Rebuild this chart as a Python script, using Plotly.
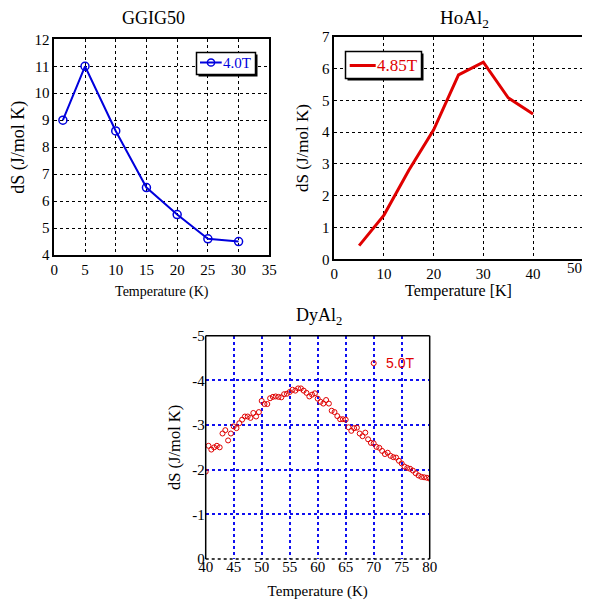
import plotly.graph_objects as go

# ---------------- data ----------------
ggig_T = [1.4, 5, 10, 15, 20, 25, 30]
ggig_dS = [9.0, 11.0, 8.6, 6.5, 5.5, 4.6, 4.5]

hoal_T = [5, 10, 15, 20, 25, 30, 35, 40]
hoal_dS = [0.43, 1.39, 2.8, 4.07, 5.8, 6.2, 5.08, 4.57]
hoal_xticks = [0, 10, 20, 30, 40, 50]

dyal_T = [40.0, 40.5, 41.0, 41.5, 42.0, 42.5, 43.0, 43.5, 44.0, 44.5,
          45.0, 45.5, 46.0, 46.5, 47.0, 47.5, 48.0, 48.5, 49.0, 49.5,
          50.0, 50.5, 51.0, 51.5, 52.0, 52.5, 53.0, 53.5, 54.0, 54.5,
          55.0, 55.5, 56.0, 56.5, 57.0, 57.5, 58.0, 58.5, 59.0, 59.5,
          60.0, 60.5, 61.0, 61.5, 62.0, 62.5, 63.0, 63.5, 64.0, 64.5,
          65.0, 65.5, 66.0, 66.5, 67.0, 67.5, 68.0, 68.5, 69.0, 69.5,
          70.0, 70.5, 71.0, 71.5, 72.0, 72.5, 73.0, 73.5, 74.0, 74.5,
          75.0, 75.5, 76.0, 76.5, 77.0, 77.5, 78.0, 78.5, 79.0, 79.5, 80.0]
dyal_dS = [-1.955, -2.535, -2.45, -2.5, -2.535, -2.5, -2.81, -2.885, -2.655, -2.81,
           -2.97, -2.93, -3.04, -3.12, -3.19, -3.19, -3.16, -3.27, -3.19, -3.29,
           -3.54, -3.47, -3.47, -3.6, -3.63, -3.64, -3.63, -3.62, -3.69, -3.70,
           -3.74, -3.79, -3.77, -3.82, -3.82, -3.77, -3.72, -3.64, -3.68, -3.71,
           -3.59, -3.52, -3.48, -3.56, -3.48, -3.32, -3.29, -3.2, -3.13, -3.13,
           -3.12, -2.95, -2.87, -2.93, -2.94, -2.81, -2.75, -2.83, -2.68, -2.6,
           -2.59, -2.51, -2.49, -2.42, -2.35, -2.38, -2.31, -2.28, -2.27, -2.2,
           -2.14, -2.07, -2.04, -2.02, -1.98, -1.92, -1.87, -1.84, -1.83, -1.82, -1.8]

dyal_ytickvals = [0, -1, -2, -3, -4, -5]
dyal_yticktext = ["0", "-1", "-2", "-3", "-4", "-5"]

# ---------------- styling ----------------
# the page body has an 8px default margin, so the figure is drawn 8px smaller
# and all page-pixel positions are shifted by that offset
OFF = 8
W, H = 590 - OFF, 602 - OFF
SERIF = "Liberation Serif, Times New Roman, serif"
SANS = "Liberation Sans, Arial, sans-serif"
BLUE = "#0000dd"
RED = "#e00000"
GRIDBLUE = "#1010f0"


def px_x(p):
    return (p - OFF) / W


def px_y(p):
    return 1 - (p - OFF) / H


fig = go.Figure()

fig.add_trace(go.Scatter(
    x=ggig_T, y=ggig_dS, name="4.0T", mode="lines+markers",
    line=dict(color=BLUE, width=2),
    marker=dict(symbol="circle-open", size=8, color=BLUE, line=dict(width=1.5)),
    xaxis="x", yaxis="y", showlegend=False))

fig.add_trace(go.Scatter(
    x=hoal_T, y=hoal_dS, name="4.85T", mode="lines",
    line=dict(color=RED, width=3),
    xaxis="x2", yaxis="y2", showlegend=False))

fig.add_trace(go.Scatter(
    x=dyal_T, y=dyal_dS, name="5.0T", mode="markers",
    marker=dict(symbol="circle-open", size=5, color=RED, line=dict(width=1)),
    xaxis="x3", yaxis="y3", showlegend=False))


def axis(domain, rng, dtick, title, anchor, tsize, titlesize, standoff,
         gridcolor="black", showline=True, gridwidth=1, labelstandoff=0):
    return dict(domain=domain, range=rng, dtick=dtick, anchor=anchor,
                showgrid=True, gridcolor=gridcolor, griddash="dot", gridwidth=gridwidth,
                showline=showline, linecolor="black", linewidth=1.5, mirror=showline,
                ticks="", automargin=False, ticklabelstandoff=labelstandoff,
                ticklabeloverflow="allow",
                tickfont=dict(family=SERIF, size=tsize, color="black"), zeroline=False,
                title=dict(text=title, font=dict(family=SERIF, size=titlesize, color="black"),
                           standoff=standoff))


fig.update_layout(
    width=W, height=H,
    margin=dict(l=0, r=0, t=0, b=0),
    paper_bgcolor="white", plot_bgcolor="white",
    showlegend=False,
    xaxis=axis([px_x(54.3), px_x(269.3)], [0, 35], 5, "Temperature (K)", "y", 15, 14, 9),
    yaxis=axis([px_y(255), px_y(39.3)], [4, 12], 1, "dS (J/mol K)", "x", 15, 18, 10),
    xaxis2=axis([px_x(334.3), px_x(582.7)], [0, 50], 10, "Temperature [K]", "y2", 15, 16, 2),
    yaxis2=axis([px_y(259.3), px_y(36.7)], [0, 7], 1, "dS (J/mol K)", "x2", 15, 17, 9),
    xaxis3=axis([px_x(205.7), px_x(429.7)], [40, 80], 5, "Temperature (K)", "y3", 15, 15, 11,
                gridcolor=GRIDBLUE, showline=False, gridwidth=1.5, labelstandoff=-3),
    yaxis3=axis([px_y(559), px_y(335.7)], [0, -5], 1, "dS (J/mol K)", "x3", 15, 16.5, 7,
                gridcolor=GRIDBLUE, showline=False, gridwidth=1.5),
)
fig.update_layout(yaxis3=dict(tickmode="array", tickvals=dyal_ytickvals, ticktext=dyal_yticktext))
# the last HoAl2 tick label sits right-aligned at the axis end (as in the original)
fig.update_layout(xaxis2=dict(tickmode="array", tickvals=hoal_xticks[:-1]))
fig.add_annotation(text=str(hoal_xticks[-1]), x=hoal_xticks[-1], xref="x2",
                   y=px_y(268), yref="paper", showarrow=False,
                   xanchor="right", yanchor="middle", borderpad=0,
                   font=dict(family=SERIF, size=15, color="black"))

# chart titles
titles = [("GGIG50", 153.8, 17.5, 18), ("HoAl<sub>2</sub>", 464, 19.5, 19), ("DyAl<sub>2</sub>", 319, 316.5, 18)]
for txt, xp, yp, fs in titles:
    fig.add_annotation(text=txt, x=px_x(xp), y=px_y(yp), xref="paper", yref="paper",
                       showarrow=False, xanchor="center", yanchor="middle", borderpad=0,
                       font=dict(family=SERIF, size=fs, color="black"))

# frame of DyAl2 plot: solid left/top/right, dotted bottom
frame = dict(color="black", width=1.5)
fig.add_shape(type="line", xref="x3 domain", yref="y3 domain", x0=0, x1=0, y0=0, y1=1, line=frame)
fig.add_shape(type="line", xref="x3 domain", yref="y3 domain", x0=0, x1=1, y0=1, y1=1, line=frame)
fig.add_shape(type="line", xref="x3 domain", yref="y3 domain", x0=1, x1=1, y0=0, y1=1, line=frame)
fig.add_shape(type="line", xref="x3 domain", yref="y3 domain", x0=0, x1=1, y0=0, y1=0,
              line=dict(color="black", width=1.5, dash="dot"))


# ---------------- legends (boxes with drop shadow) ----------------
def rect(x0, y0, x1, y1, **kw):
    fig.add_shape(type="rect", xref="paper", yref="paper",
                  x0=px_x(x0), x1=px_x(x1), y0=px_y(y1), y1=px_y(y0), **kw)


def hline(x0, x1, y, color, width):
    fig.add_shape(type="line", xref="paper", yref="paper",
                  x0=px_x(x0), x1=px_x(x1), y0=px_y(y), y1=px_y(y),
                  line=dict(color=color, width=width))


def circle(cx, cy, r, color, width):
    fig.add_shape(type="circle", xref="paper", yref="paper",
                  x0=px_x(cx - r), x1=px_x(cx + r), y0=px_y(cy + r), y1=px_y(cy - r),
                  line=dict(color=color, width=width), fillcolor="rgba(0,0,0,0)")


def label(text, x, y, color, family, size):
    fig.add_annotation(text=text, x=px_x(x), y=px_y(y), xref="paper", yref="paper",
                       showarrow=False, xanchor="left", yanchor="middle",
                       font=dict(family=family, size=size, color=color))


# GGIG50 legend
rect(198.5, 54.5, 257.5, 76.5, fillcolor="black", line=dict(width=0))
rect(196.5, 52.5, 255.5, 74.5, fillcolor="white", line=dict(color="black", width=1.5))
hline(200, 221.7, 62.5, BLUE, 2)
circle(211, 62.5, 3.6, BLUE, 1.5)
label(fig.data[0].name, 220.5, 63, BLUE, SERIF, 15)

# HoAl2 legend
rect(347.5, 53.5, 423.5, 80.5, fillcolor="black", line=dict(width=0))
rect(345.5, 51.5, 421.5, 78.5, fillcolor="white", line=dict(color="black", width=1.5))
hline(349.7, 375.7, 65.5, RED, 3)
label(fig.data[1].name, 374.5, 65.5, RED, SERIF, 17)

# DyAl2 legend (no box)
circle(373.7, 363.2, 2.5, RED, 1)
label(fig.data[2].name, 383.5, 362.5, RED, SANS, 14)

fig.write_html("out.html")
